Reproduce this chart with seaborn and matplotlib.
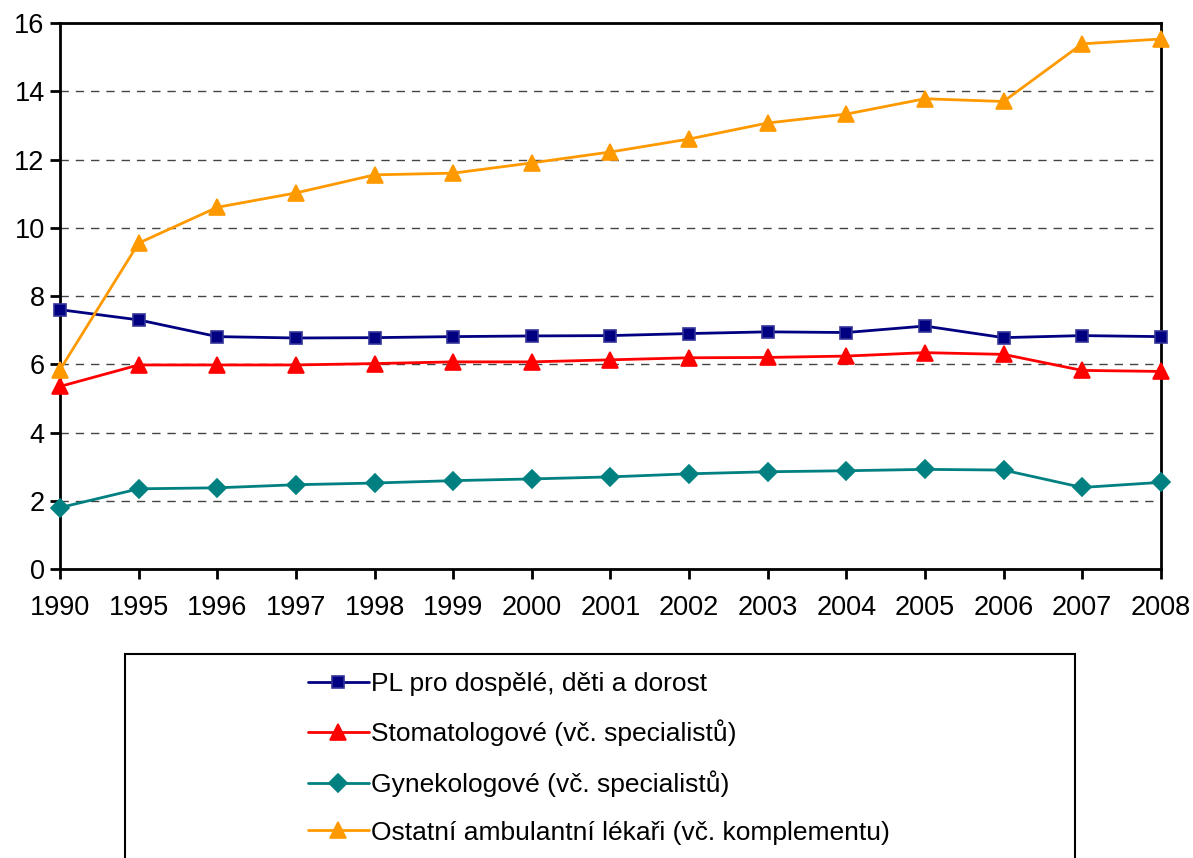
import pandas as pd
import numpy as np
import matplotlib
matplotlib.use("Agg")
import matplotlib.pyplot as plt
from matplotlib.patches import Rectangle
import seaborn as sns

# data
years = ["1990", "1995", "1996", "1997", "1998", "1999", "2000", "2001",
         "2002", "2003", "2004", "2005", "2006", "2007", "2008"]
pl = [7.60, 7.30, 6.81, 6.77, 6.78, 6.81, 6.83, 6.84, 6.90, 6.95, 6.93, 7.12, 6.78, 6.84, 6.81]
stoma = [5.35, 5.98, 5.98, 5.98, 6.02, 6.07, 6.07, 6.13, 6.19, 6.20, 6.24, 6.34, 6.29, 5.82, 5.79]
gyn = [1.80, 2.35, 2.38, 2.47, 2.52, 2.59, 2.64, 2.70, 2.79, 2.85, 2.88, 2.92, 2.90, 2.39, 2.54]
ostatni = [5.84, 9.55, 10.60, 11.02, 11.55, 11.60, 11.90, 12.22, 12.60, 13.07, 13.33, 13.78, 13.70, 15.39, 15.53]

labels = ["PL pro dospělé, děti a dorost",
          "Stomatologové (vč. specialistů)",
          "Gynekologové (vč. specialistů)",
          "Ostatní ambulantní lékaři (vč. komplementu)"]
series = [pl, stoma, gyn, ostatni]
colors = ["#000080", "#FF0000", "#008080", "#FF9900"]
edges = ["#333399", "#FF0000", "#008080", "#FF9900"]
markers = ["s", "^", "D", "^"]
msizes = [9, 11, 9, 11]

sns.set_style("white")
plt.rcParams["font.family"] = ["Liberation Sans", "DejaVu Sans"]
plt.rcParams["text.color"] = "black"

fig = plt.figure(figsize=(11.93, 8.58), dpi=100)
ax = fig.add_axes([0.0503, 0.3368, 0.9227, 0.6364])

for lab, vals, c, ec, m, ms in zip(labels, series, colors, edges, markers, msizes):
    df = pd.DataFrame({"year": years, "value": vals})
    sns.lineplot(data=df, x="year", y="value", ax=ax, color=c, marker=m,
                 markersize=ms, markeredgecolor=ec, markeredgewidth=1.2,
                 linewidth=2, label=lab, sort=False, clip_on=False, zorder=3)

ax.set_xlim(0, len(years) - 1)
ax.set_ylim(0, 16)
ax.set_yticks(np.arange(0, 17, 2))
ax.set_xlabel("")
ax.set_ylabel("")

ax.yaxis.grid(True, linestyle=(0, (6, 5)), color="#444444", linewidth=1)
ax.xaxis.grid(False)
for s in ax.spines.values():
    s.set_visible(True)
    s.set_color("black")
    s.set_linewidth(2)
ax.tick_params(axis="both", direction="out", length=7, width=2, color="black",
               labelsize=19.5, labelcolor="black", bottom=True, left=True)
ax.tick_params(axis="x", pad=12)
ax.tick_params(axis="y", pad=4)

# legend below the plot, in a square box
handles, labs = ax.get_legend_handles_labels()
ax.get_legend().remove()
fig.patches.append(Rectangle((125 / 1193, -0.02), 950 / 1193, 0.02 + 1 - 654 / 858,
                             transform=fig.transFigure, fill=False,
                             edgecolor="black", linewidth=1.5))
fig.legend(handles, labs, loc="upper left", bbox_to_anchor=(308 / 1193, 1 - 672 / 858),
           frameon=False, fontsize=19, handlelength=2.3, handletextpad=0.08,
           labelspacing=0.9, borderpad=0, borderaxespad=0)

fig.savefig("out.png", dpi=100)
